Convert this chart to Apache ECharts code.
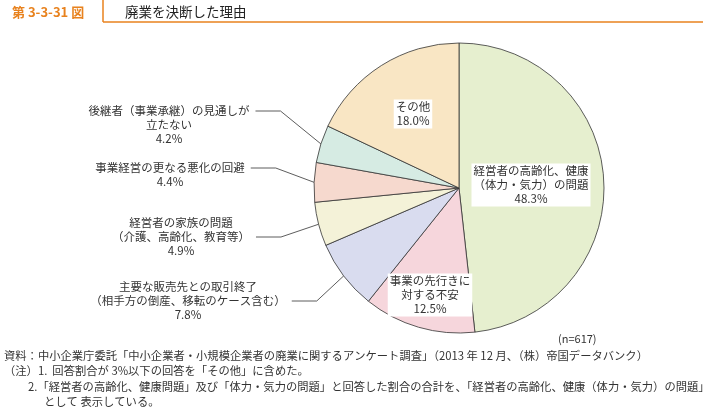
<!DOCTYPE html>
<html><head><meta charset="utf-8">
<script src="https://cdn.jsdelivr.net/npm/echarts@6/dist/echarts.min.js"></script>
<style>html,body{margin:0;padding:0;background:#fff}#c{width:703px;height:419px}</style>
</head><body><div id="c"></div>
<script>
const categories = [
  '経営者の高齢化、健康\n（体力・気力）の問題',
  '事業の先行きに\n対する不安',
  '主要な販売先との取引終了\n（相手方の倒産、移転のケース含む）',
  '経営者の家族の問題\n（介護、高齢化、教育等）',
  '事業経営の更なる悪化の回避',
  '後継者（事業承継）の見通しが\n立たない',
  'その他'
];
const values = [48.3, 12.5, 7.8, 4.9, 4.4, 4.2, 18.0];
const colors = ['#e6efcf', '#f6d6dc', '#d9dcef', '#f4f2d8', '#f6d9ce', '#d6ebe3', '#f9e6c4'];
const insideLabel = [true, true, false, false, false, false, true];
const titleNo = '第 3-3-31 図';
const titleText = '廃業を決断した理由';
const sampleNote = '(n=617)';
const footLines = [
  '資料：中小企業庁委託「中小企業者・小規模企業者の廃業に関するアンケート調査」（2013 年 12 月、（株）帝国データバンク）',
  '（注）1.  回答割合が 3%以下の回答を「その他」に含めた。',
  '2.「経営者の高齢化、健康問題」及び「体力・気力の問題」と回答した割合の合計を、「経営者の高齢化、健康（体力・気力）の問題」',
  'として 表示している。'
];

// label placement (layout only): inside labels -> box centre, outside labels -> box top
const labelPos = [
  [531, 185], [430, 295], [188, 280], [181, 216], [170, 147], [169, 76], [413, 114]
];
const labelPadTop = [0, 0, 0, 0, 14, 28, 0];

const FONT = '"Noto Sans CJK JP", "Noto Sans", sans-serif';
const ORANGE = '#e8821e';

const chart = echarts.init(document.getElementById('c'), null, {renderer: 'canvas'});

const data = categories.map((name, i) => {
  const item = {name: name, value: values[i], itemStyle: {color: colors[i]}};
  if (insideLabel[i]) {
    item.label = {position: 'inside', backgroundColor: '#fff', padding: [1, 2, 0, 2]};
    item.labelLine = {show: false};
  } else {
    item.label = {position: 'outside', backgroundColor: 'rgba(255,255,255,0)', padding: [labelPadTop[i], 6, 0, 6]};
  }
  return item;
});

chart.setOption({
  animation: false,
  series: [{
    type: 'pie',
    center: [459, 188],
    radius: 145,
    startAngle: 90,
    clockwise: true,
    avoidLabelOverlap: false,
    data: data,
    itemStyle: {borderColor: '#333', borderWidth: 0.8},
    label: {
      fontFamily: FONT, fontSize: 11.5, lineHeight: 14, color: '#333',
      formatter: p => p.name + '\n' + p.value.toFixed(1) + '%'
    },
    labelLine: {show: true, length: 10, length2: 25, lineStyle: {color: '#333', width: 0.8}},
    labelLayout: function (params) {
      const i = params.dataIndex;
      return {x: labelPos[i][0], y: labelPos[i][1], align: 'center',
              verticalAlign: insideLabel[i] ? 'middle' : 'top'};
    }
  }],
  graphic: [
    {type: 'line', shape: {x1: 103, y1: 0, x2: 103, y2: 22}, style: {stroke: ORANGE, lineWidth: 1.5}},
    {type: 'line', shape: {x1: 103, y1: 22, x2: 703, y2: 22}, style: {stroke: ORANGE, lineWidth: 1.5}},
    {type: 'text', x: 12, y: 12, style: {text: titleNo, font: 'bold 13px ' + FONT, fill: ORANGE, verticalAlign: 'middle'}},
    {type: 'text', x: 125, y: 12, style: {text: titleText, font: '13.5px ' + FONT, fill: '#222', verticalAlign: 'middle'}},
    {type: 'text', x: 558, y: 339, style: {text: sampleNote, font: '11px ' + FONT, fill: '#333', verticalAlign: 'middle'}},
    {type: 'text', x: 4, y: 356, style: {text: footLines[0], font: '11.3px ' + FONT, fill: '#333', verticalAlign: 'middle'}},
    {type: 'text', x: 4, y: 371, style: {text: footLines[1], font: '11.3px ' + FONT, fill: '#333', verticalAlign: 'middle'}},
    {type: 'text', x: 28, y: 387, style: {text: footLines[2], font: '11.3px ' + FONT, fill: '#333', verticalAlign: 'middle'}},
    {type: 'text', x: 44, y: 402, style: {text: footLines[3], font: '11.3px ' + FONT, fill: '#333', verticalAlign: 'middle'}}
  ]
});
</script>
</body></html>
